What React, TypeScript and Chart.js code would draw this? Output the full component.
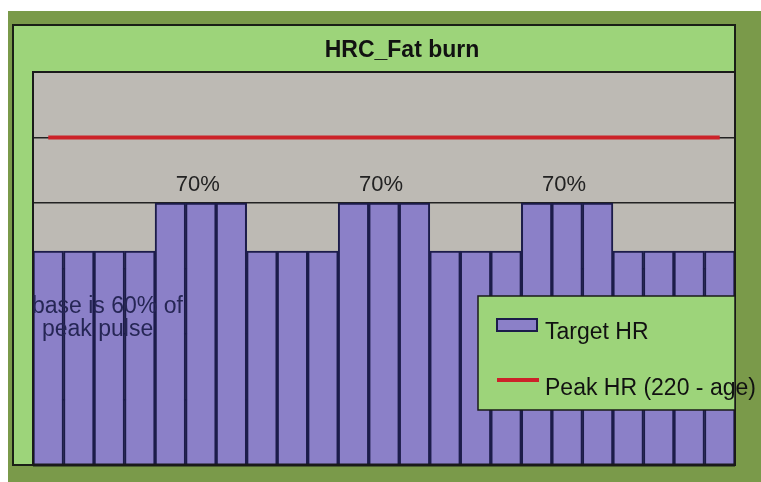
import React, { useEffect, useRef } from 'react';
import { Chart, registerables } from 'chart.js';

Chart.register(...registerables);

const categories = ['1', '2', '3', '4', '5', '6', '7', '8', '9', '10', '11', '12', '13', '14', '15', '16', '17', '18', '19', '20', '21', '22', '23'];
const targetHR = [98, 98, 98, 98, 120, 120, 120, 98, 98, 98, 120, 120, 120, 98, 98, 98, 120, 120, 120, 98, 98, 98, 98];
const peakHR = [150, 150, 150, 150, 150, 150, 150, 150, 150, 150, 150, 150, 150, 150, 150, 150, 150, 150, 150, 150, 150, 150, 150];
const yMin = 0;
const yMax = 180;
const yStep = 30;
const chartTitle = 'HRC_Fat burn';
const zoneLabel = '70%';
const zoneLabelIndices = [5, 11, 17];
const baseNote = ['base is 60% of', 'peak pulse'];
const seriesNames = ['Target HR', 'Peak HR (220 - age)'];

const OLIVE = '#7a9a4a';
const LIGHT = '#9dd47a';
const GRAY = '#bdbab4';
const PURPLE = '#8b80c8';
const BAR_EDGE = '#1c1c4a';
const RED = '#cc2229';
const DARK = '#1a1f16';
const FONT = '"Liberation Sans", Arial, sans-serif';

export default function App() {
  const ref = useRef<HTMLCanvasElement>(null);

  useEffect(() => {
    const canvas = ref.current;
    if (!canvas) return;

    const deco = {
      id: 'deco',
      beforeDraw(chart: any) {
        const ctx = chart.ctx;
        const a = chart.chartArea;
        ctx.save();
        ctx.fillStyle = '#ffffff';
        ctx.fillRect(0, 0, 761, 482);
        ctx.fillStyle = OLIVE;
        ctx.fillRect(8, 11, 753, 471);
        ctx.fillStyle = LIGHT;
        ctx.fillRect(13, 25, 722, 440);
        ctx.strokeStyle = DARK;
        ctx.lineWidth = 2;
        ctx.strokeRect(13, 25, 722, 440);
        ctx.fillStyle = GRAY;
        ctx.fillRect(a.left, a.top, a.right - a.left, a.bottom - a.top);
        ctx.fillStyle = '#111111';
        ctx.font = 'bold 23px ' + FONT;
        ctx.textAlign = 'center';
        ctx.textBaseline = 'alphabetic';
        ctx.fillText(chartTitle, 402, 57);
        ctx.restore();
      },
      afterDatasetsDraw(chart: any) {
        const ctx = chart.ctx;
        const a = chart.chartArea;
        const xs = chart.scales.x;
        const ys = chart.scales.y;
        ctx.save();
        // plot border
        ctx.strokeStyle = '#1a1a1a';
        ctx.lineWidth = 2;
        ctx.strokeRect(a.left, a.top, a.right - a.left, a.bottom - a.top);
        ctx.lineWidth = 3;
        ctx.beginPath();
        ctx.moveTo(a.left, a.bottom);
        ctx.lineTo(a.right, a.bottom);
        ctx.stroke();
        // zone labels
        ctx.fillStyle = '#222222';
        ctx.font = '22px ' + FONT;
        ctx.textAlign = 'center';
        ctx.textBaseline = 'alphabetic';
        zoneLabelIndices.forEach((i) => {
          ctx.fillText(zoneLabel, xs.getPixelForValue(i) - 3, ys.getPixelForValue(targetHR[i]) - 12);
        });
        // base note
        ctx.fillStyle = '#262655';
        ctx.font = '23px ' + FONT;
        ctx.textAlign = 'left';
        ctx.fillText(baseNote[0], a.left - 1, 313);
        ctx.fillText(baseNote[1], a.left + 9, 336);
        ctx.restore();
      },
      afterDraw(chart: any) {
        const ctx = chart.ctx;
        ctx.save();
        ctx.fillStyle = LIGHT;
        ctx.fillRect(478, 296, 257, 114);
        ctx.strokeStyle = '#1a1a1a';
        ctx.lineWidth = 1.5;
        ctx.strokeRect(478, 296, 257, 114);
        // bar swatch
        ctx.fillStyle = PURPLE;
        ctx.fillRect(497, 319, 40, 12);
        ctx.strokeStyle = BAR_EDGE;
        ctx.lineWidth = 2;
        ctx.strokeRect(497, 319, 40, 12);
        // line swatch
        ctx.strokeStyle = RED;
        ctx.lineWidth = 4;
        ctx.beginPath();
        ctx.moveTo(497, 380);
        ctx.lineTo(539, 380);
        ctx.stroke();
        ctx.fillStyle = '#111111';
        ctx.font = '23px ' + FONT;
        ctx.textAlign = 'left';
        ctx.textBaseline = 'alphabetic';
        ctx.fillText(seriesNames[0], 545, 339);
        ctx.fillText(seriesNames[1], 545, 395);
        ctx.restore();
      },
    };

    const chart = new Chart(canvas, {
      type: 'bar',
      data: {
        labels: categories,
        datasets: [
          {
            type: 'line',
            label: seriesNames[1],
            data: peakHR,
            borderColor: RED,
            backgroundColor: RED,
            borderWidth: 4,
            pointRadius: 0,
            order: 0,
          } as any,
          {
            type: 'bar',
            label: seriesNames[0],
            data: targetHR,
            backgroundColor: PURPLE,
            borderColor: BAR_EDGE,
            borderWidth: 2,
            barPercentage: 1,
            categoryPercentage: 1,
            order: 1,
          },
        ],
      },
      options: {
        responsive: false,
        animation: false,
        devicePixelRatio: 1,
        layout: { padding: { left: 33, top: 72, right: 26, bottom: 17 } },
        plugins: {
          legend: { display: false },
          title: { display: false },
          tooltip: { enabled: false },
        },
        scales: {
          x: { display: false },
          y: {
            display: true,
            min: yMin,
            max: yMax,
            ticks: { display: false, stepSize: yStep },
            grid: { color: '#222222', lineWidth: 1.5, drawTicks: false },
            border: { display: false },
          },
        },
      },
      plugins: [deco],
    });

    return () => chart.destroy();
  }, []);

  return (
    <div style={{ position: 'fixed', left: 0, top: 0, width: 761, height: 482, background: '#ffffff' }}>
      <canvas ref={ref} width={761} height={482} style={{ display: 'block', width: 761, height: 482 }} />
    </div>
  );
}
